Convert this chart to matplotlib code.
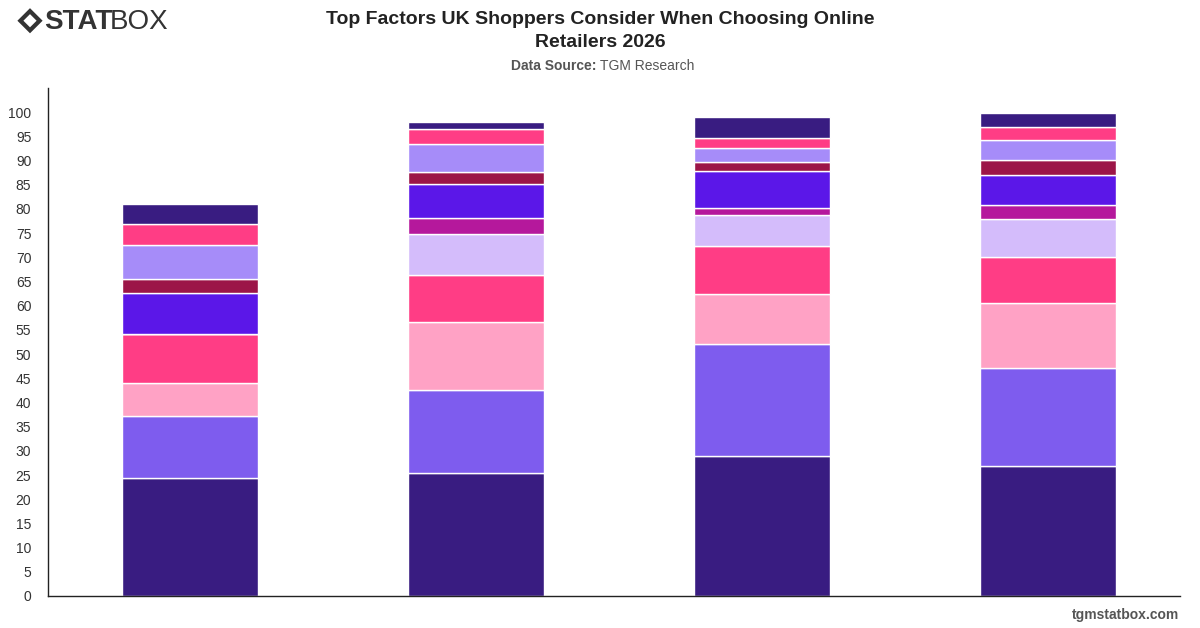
import numpy as np
import matplotlib.pyplot as plt
from matplotlib.patches import Polygon

plt.rcParams['font.family'] = ['Liberation Sans', 'DejaVu Sans']

# Data (bottom segment first)
categories = ['A', 'B', 'C', 'D']
factors = [f'Factor {i}' for i in range(1, 12)]
values = [
    [24.4, 25.4, 28.9, 26.9],
    [12.8, 17.2, 23.1, 20.2],
    [6.8, 14.0, 10.5, 13.4],
    [10.1, 9.7, 9.8, 9.5],
    [0.0, 8.5, 6.4, 7.9],
    [0.0, 3.4, 1.5, 2.8],
    [8.5, 6.9, 7.6, 6.4],
    [2.9, 2.5, 1.8, 2.9],
    [7.0, 5.9, 2.9, 4.2],
    [4.4, 3.0, 2.1, 2.8],
    [4.1, 1.4, 4.4, 2.9],
]
colors = ['#391c81', '#7e5cee', '#ffa2c5', '#ff3d85', '#d4bcfb', '#b5189c',
          '#5b17e8', '#9c1548', '#a68cf9', '#ff3d85', '#391c81']

fig = plt.figure(figsize=(12, 6.28), dpi=100)
ax = fig.add_axes([0.04, 0.051, 0.943, 0.809])

x = np.arange(len(categories))
bottom = np.zeros(len(categories))
for name, vals, c in zip(factors, values, colors):
    vals = np.array(vals)
    ax.bar(x, vals, bottom=bottom, width=0.475, color=c, edgecolor='white',
           linewidth=1, label=name)
    bottom += vals

ax.set_xlim(-0.497, len(categories) - 0.54)
ax.set_ylim(0, 105)
ax.set_yticks(np.arange(0, 101, 5))
ax.set_xticks([])
ax.tick_params(axis='y', length=0, labelsize=10, labelcolor='#333333', pad=12)
for s in ['top', 'right']:
    ax.spines[s].set_visible(False)
for s in ['left', 'bottom']:
    ax.spines[s].set_color('#222222')
    ax.spines[s].set_linewidth(1)

# Titles
fig.text(0.5, 0.983, 'Top Factors UK Shoppers Consider When Choosing Online\nRetailers 2026',
         ha='center', va='top', fontsize=14, fontweight='bold', color='#222222',
         linespacing=1.45)
fig.text(0.5, 0.895, 'Data Source: ', ha='right', va='center', fontsize=10,
         fontweight='bold', color='#555555')
fig.text(0.5, 0.895, 'TGM Research', ha='left', va='center', fontsize=10, color='#555555')

# Logo
lx, ly = 0.025, 0.967
fig.patches.append(Polygon([[lx - 0.0105, ly], [lx, ly + 0.02], [lx + 0.0105, ly], [lx, ly - 0.02]],
                           closed=True, transform=fig.transFigure, facecolor='#333333'))
fig.patches.append(Polygon([[lx - 0.0055, ly], [lx, ly + 0.0105], [lx + 0.0055, ly], [lx, ly - 0.0105]],
                           closed=True, transform=fig.transFigure, facecolor='white'))
fig.text(0.037, 0.965, 'STAT', ha='left', va='center', fontsize=20, fontweight='bold',
         color='#333333')
fig.text(0.0915, 0.965, 'BOX', ha='left', va='center', fontsize=20, fontweight='light',
         color='#333333')

# Footer
fig.text(0.983, 0.02, 'tgmstatbox.com', ha='right', va='center', fontsize=10,
         fontweight='bold', color='#555555')

fig.savefig('out.png', dpi=100)
